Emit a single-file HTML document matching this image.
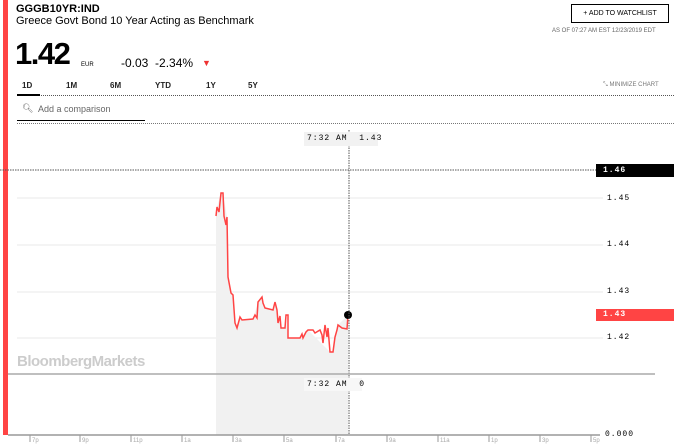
<!DOCTYPE html>
<html><head><style>
body{margin:0;width:674px;height:445px;background:#fff;font-family:"Liberation Sans",sans-serif;position:relative;overflow:hidden}
.a{position:absolute;white-space:nowrap}
.m{font-family:"Liberation Mono",monospace;font-size:8px;letter-spacing:1px}
.t{font-size:8px;top:81px;font-weight:bold;color:#222}
</style></head><body>
<div class="a" style="left:3px;top:0;width:5px;height:435px;background:#f44"></div>
<div class="a" style="left:16px;top:3px;font-size:11px;font-weight:bold">GGGB10YR:IND</div>
<div class="a" style="left:16px;top:15px;font-size:11px">Greece Govt Bond 10 Year Acting as Benchmark</div>
<div class="a" style="left:571px;top:4px;width:96px;height:17px;border:1px solid #000;font-size:7px;line-height:17px;text-align:center">+ ADD TO WATCHLIST</div>
<div class="a" style="left:552px;top:28px;font-size:6px;color:#666">AS OF 07:27 AM EST 12/23/2019 EDT</div>
<div class="a" style="left:15px;top:36px;font-size:31px;font-weight:bold;letter-spacing:-1.5px">1.42</div>
<div class="a" style="left:81px;top:62px;font-size:6px">EUR</div>
<div class="a" style="left:121px;top:56px;font-size:12px">-0.03&nbsp; -2.34%</div>
<div class="a" style="left:202px;top:58px;font-size:9px;color:#e33">▼</div>
<div class="a t" style="left:22px">1D</div>
<div class="a t" style="left:66px">1M</div>
<div class="a t" style="left:110px">6M</div>
<div class="a t" style="left:155px">YTD</div>
<div class="a t" style="left:206px">1Y</div>
<div class="a t" style="left:248px">5Y</div>
<div class="a" style="left:603px;top:82px;font-size:6px;color:#777">⤡ MINIMIZE CHART</div>
<div class="a" style="left:17px;top:95px;width:657px;border-top:1px dotted #555"></div>
<div class="a" style="left:17px;top:94px;width:23px;height:2px;background:#000"></div>
<div class="a" style="left:22px;top:103px;font-size:9px;color:#666">&#x1F50D;&#xFE0E;</div>
<div class="a" style="left:38px;top:104px;font-size:9px;color:#666">Add a comparison</div>
<div class="a" style="left:17px;top:120px;width:128px;height:1px;background:#000"></div>
<div class="a" style="left:17px;top:123px;width:657px;border-top:1px dotted #777"></div>
<svg class="a" style="left:0;top:0" width="674" height="445">
<g stroke="#e8e8e8" stroke-width="1">
<line x1="17" y1="198" x2="603" y2="198"/><line x1="17" y1="245" x2="603" y2="245"/>
<line x1="17" y1="292" x2="603" y2="292"/><line x1="17" y1="338" x2="603" y2="338"/>
</g>
<polygon fill="#f1f1f1" points="216,216 217,207 221,193 223,193 227,217 228,277 231,293 233,295 235,323 237,328 240,317 242,320 253,319 258,302 262,297 263,303 265,308 273,310 275,302 281,328 285,328 286,315 288,338 300,338 306,332 308,330 330,352 333,352 338,325 348,315 348,435 216,435"/>
<polyline fill="none" stroke="#f44" stroke-width="1.5" points="216,216 217,207 219,212 221,193 223,193 224,216 226,225 227,217 228,277 231,293 233,295 235,323 237,328 240,317 242,320 253,319 255,315 257,318 258,302 262,297 263,303 265,308 273,310 275,302 277,310 278,323 280,316 281,328 285,328 286,315 288,315 288,338 300,338 302,334 303,338 306,332 308,330 313,330 315,333 320,330 322,335 323,343 325,325 327,337 328,328 330,352 333,352 335,337 337,330 338,325 342,328 347,329 348,315"/>
<circle cx="348" cy="315" r="4" fill="#000"/>
<line x1="0" y1="170" x2="596" y2="170" stroke="#555" stroke-dasharray="1.5,1"/>
<line x1="349" y1="130" x2="349" y2="435" stroke="#555" stroke-dasharray="1.5,1"/>
<line x1="8" y1="374" x2="655" y2="374" stroke="#aaa" stroke-width="1.5"/>
<line x1="8" y1="435" x2="600" y2="435" stroke="#999" stroke-width="1.5"/>
<g stroke="#999"><line x1="30" y1="435" x2="30" y2="442"/><line x1="80" y1="435" x2="80" y2="442"/><line x1="131" y1="435" x2="131" y2="442"/><line x1="182" y1="435" x2="182" y2="442"/><line x1="233" y1="435" x2="233" y2="442"/><line x1="284" y1="435" x2="284" y2="442"/><line x1="336" y1="435" x2="336" y2="442"/><line x1="387" y1="435" x2="387" y2="442"/><line x1="438" y1="435" x2="438" y2="442"/><line x1="489" y1="435" x2="489" y2="442"/><line x1="540" y1="435" x2="540" y2="442"/><line x1="591" y1="435" x2="591" y2="442"/></g>
<g font-size="6" fill="#aaa" font-family="Liberation Sans"><text x="32" y="442">7p</text><text x="82" y="442">9p</text><text x="133" y="442">11p</text><text x="184" y="442">1a</text><text x="235" y="442">3a</text><text x="286" y="442">5a</text><text x="338" y="442">7a</text><text x="389" y="442">9a</text><text x="440" y="442">11a</text><text x="491" y="442">1p</text><text x="542" y="442">3p</text><text x="593" y="442">5p</text></g>
</svg>
<div class="a" style="left:17px;top:353px;font-size:15px;font-weight:bold;color:#ccc;letter-spacing:-0.5px">BloombergMarkets</div>
<div class="a m" style="left:304px;top:132px;width:74px;height:14px;background:#f2f2f2;line-height:14px;text-indent:3px">7:32 AM &nbsp;1.43</div>
<div class="a m" style="left:304px;top:378px;width:58px;height:13px;background:#f7f7f7;line-height:13px;text-indent:3px">7:32 AM &nbsp;0</div>
<div class="a m" style="left:596px;top:164px;width:78px;height:13px;background:#000;color:#fff;line-height:13px;text-indent:7px;font-weight:bold">1.46</div>
<div class="a m" style="left:596px;top:309px;width:78px;height:12px;background:#f44;color:#fff;line-height:12px;text-indent:7px;font-weight:bold">1.43</div>
<div class="a m" style="left:607px;top:194px">1.45</div>
<div class="a m" style="left:607px;top:240px">1.44</div>
<div class="a m" style="left:607px;top:287px">1.43</div>
<div class="a m" style="left:607px;top:333px">1.42</div>
<div class="a m" style="left:605px;top:430px">0.000</div>
</body></html>
